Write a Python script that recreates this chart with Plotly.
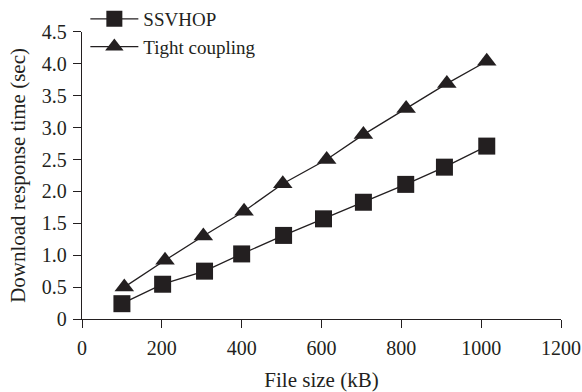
import plotly.graph_objects as go

# Data
ssvhop_x = [100, 202, 307, 400, 505, 605, 705, 811, 908, 1014]
ssvhop_y = [0.24, 0.545, 0.75, 1.02, 1.31, 1.57, 1.83, 2.11, 2.38, 2.71]
tight_x = [106, 208, 304, 406, 503, 613, 705, 812, 914, 1014]
tight_y = [0.50, 0.92, 1.30, 1.69, 2.12, 2.50, 2.89, 3.30, 3.69, 4.04]

x_ticks = [0, 200, 400, 600, 800, 1000, 1200]
y_ticks = [0, 0.5, 1.0, 1.5, 2.0, 2.5, 3.0, 3.5, 4.0, 4.5]
y_tick_text = ["0", "0.5", "1.0", "1.5", "2.0", "2.5", "3.0", "3.5", "4.0", "4.5"]

INK = "#231f20"
FONT = "Liberation Serif"

fig = go.Figure()
fig.add_trace(go.Scatter(
    x=ssvhop_x, y=ssvhop_y, name="SSVHOP", mode="lines+markers",
    line=dict(color=INK, width=1.3),
    marker=dict(symbol="square", size=17, color=INK),
))
fig.add_trace(go.Scatter(
    x=tight_x, y=tight_y, name="Tight coupling", mode="lines+markers",
    line=dict(color=INK, width=1.3),
    marker=dict(symbol="triangle-up", size=17, color=INK),
))

fig.update_layout(
    width=582, height=392,
    margin=dict(l=82, r=21, t=0, b=73),
    paper_bgcolor="white", plot_bgcolor="white",
    font=dict(family=FONT, color=INK, size=20),
    showlegend=True,
    legend=dict(
        x=0.007, y=1.0, xanchor="left", yanchor="top",
        font=dict(family=FONT, size=19, color=INK),
        bgcolor="rgba(0,0,0,0)", itemwidth=48,
        tracegroupgap=0,
    ),
    xaxis=dict(
        range=[0, 1200], tickvals=x_ticks, automargin=False,
        showline=True, linecolor=INK, linewidth=1.3,
        ticks="outside", ticklen=8, tickcolor=INK, tickwidth=1.3,
        ticklabelstandoff=3,
        showgrid=False, zeroline=False,
        tickfont=dict(family=FONT, size=20, color=INK),
        title=dict(text="File size (kB)", font=dict(family=FONT, size=21, color=INK)),
    ),
    yaxis=dict(
        range=[0, 4.5], tickvals=y_ticks, ticktext=y_tick_text,
        domain=[0, 0.9], automargin=False,
        showline=True, linecolor=INK, linewidth=1.3,
        ticks="outside", ticklen=8, tickcolor=INK, tickwidth=1.3,
        ticklabelstandoff=2,
        showgrid=False, zeroline=False,
        tickfont=dict(family=FONT, size=20, color=INK),
        title=dict(text="Download response time (sec)", font=dict(family=FONT, size=21, color=INK), standoff=10),
    ),
)

fig.write_html("out.html")
